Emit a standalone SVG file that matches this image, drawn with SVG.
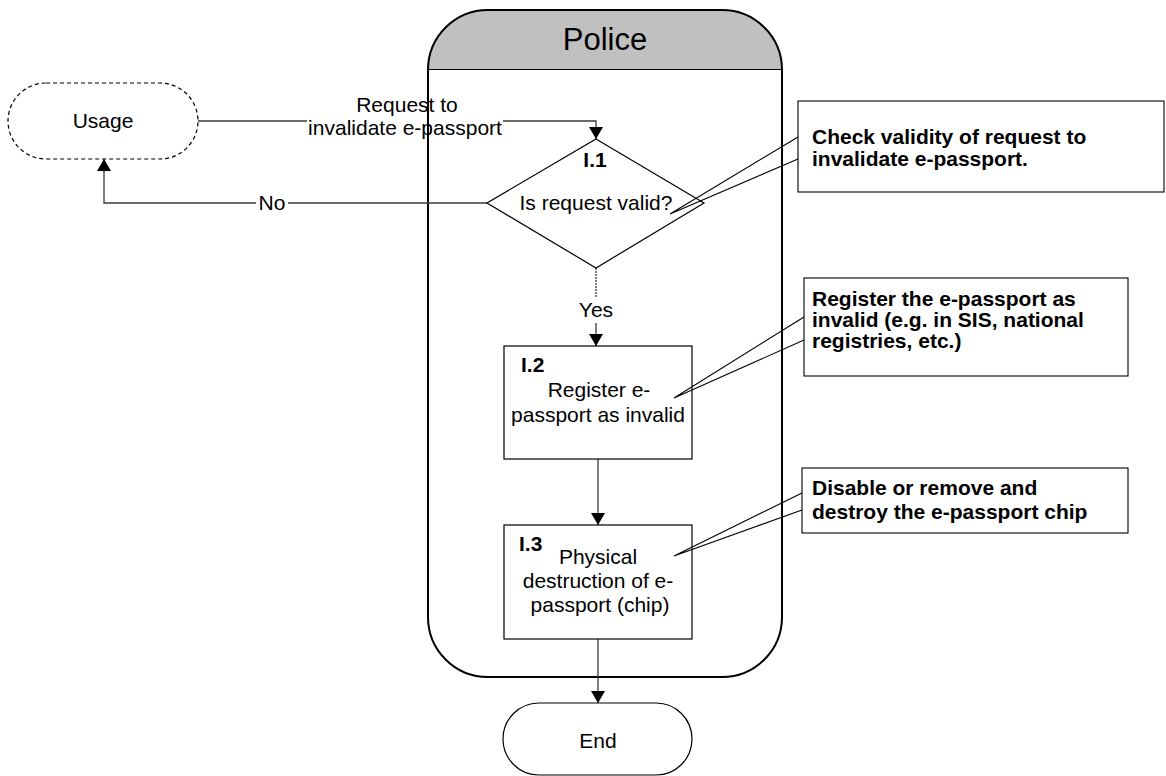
<svg xmlns="http://www.w3.org/2000/svg" width="1166" height="776" viewBox="0 0 1166 776">
  <style>
    .t { font-family: "Liberation Sans", Arial, sans-serif; font-size: 21px; fill: #000; }
    .b { font-weight: bold; }
    .m { text-anchor: middle; }
    .shape { fill: #fff; stroke: #000; stroke-width: 1.2; }
    .conn { fill: none; stroke: #3a3a3a; stroke-width: 1.3; }
    .call { fill: #fff; stroke: #000; stroke-width: 1.1; }
    .wedge { fill: none; stroke: #000; stroke-width: 1.1; }
  </style>
  <defs>
    <marker id="arrow" viewBox="0 0 12 14" refX="12" refY="7" markerWidth="12" markerHeight="14" markerUnits="userSpaceOnUse" orient="auto">
      <path d="M0,0 L12,7 L0,14 Z" fill="#000"/>
    </marker>
  </defs>

  <!-- swimlane -->
  <g id="lane-police">
    <path d="M428,70 A60,60 0 0 1 488,10 H722 A60,60 0 0 1 782,70 Z" fill="#c0c0c0" stroke="#000" stroke-width="2"/>
    <path d="M428,70 V617 A60,60 0 0 0 488,677 H722 A60,60 0 0 0 782,617 V70" fill="#fff" stroke="#000" stroke-width="2"/>
    <text class="t m" x="605" y="50" style="font-size:31px">Police</text>
  </g>

  <!-- connectors -->
  <g id="connectors">
    <path class="conn" d="M198,121 H307"/>
    <path class="conn" d="M503,121 H596 V139" marker-end="url(#arrow)"/>
    <text class="t m" x="407" y="112">Request to</text>
    <text class="t m" x="405" y="135">invalidate e-passport</text>

    <path class="conn" d="M487,203 H288"/>
    <path class="conn" d="M256,203 H104 V159" marker-end="url(#arrow)"/>
    <text class="t m" x="272" y="210">No</text>

    <path class="conn" d="M596,268 V297" stroke-dasharray="2 1"/>
    <text class="t m" x="596" y="317">Yes</text>
    <path class="conn" d="M596,323 V346" marker-end="url(#arrow)"/>

    <path class="conn" d="M598,459 V525" marker-end="url(#arrow)"/>
    <path class="conn" d="M598,639 V703" marker-end="url(#arrow)"/>
  </g>

  <g id="usage">
    <rect x="8" y="83" width="190" height="76" rx="38" ry="38" class="shape" stroke-dasharray="4 3"/>
    <text class="t m" x="103" y="128">Usage</text>
  </g>

  <g id="i1">
    <polygon points="596,139 704,203 596,268 487,203" class="shape"/>
    <text class="t b m" x="595" y="167">I.1</text>
    <text class="t m" x="596" y="210">Is request valid?</text>
  </g>

  <g id="i2">
    <rect x="504" y="346" width="188" height="113" class="shape"/>
    <text class="t b" x="521" y="372">I.2</text>
    <text class="t m" x="599" y="397">Register e-</text>
    <text class="t m" x="598" y="422">passport as invalid</text>
  </g>

  <g id="i3">
    <rect x="504" y="525" width="188" height="114" class="shape"/>
    <text class="t b" x="519" y="551">I.3</text>
    <text class="t m" x="598" y="564">Physical</text>
    <text class="t m" x="598" y="588">destruction of e-</text>
    <text class="t m" x="600" y="612">passport (chip)</text>
  </g>

  <g id="end">
    <rect x="503" y="703" width="189" height="72" rx="36" ry="36" class="shape"/>
    <text class="t m" x="598" y="748">End</text>
  </g>

  <!-- annotations -->
  <g id="note-i1">
    <rect x="798" y="101" width="366" height="91" class="call"/>
    <path class="wedge" d="M798,137 L670,214 L798,159"/>
    <text class="t b" x="812" y="144">Check validity of request to</text>
    <text class="t b" x="812" y="166">invalidate e-passport.</text>
  </g>

  <g id="note-i2">
    <rect x="804" y="278" width="324" height="98" class="call"/>
    <path class="wedge" d="M804,317 L674,398 L804,340"/>
    <text class="t b" x="812" y="306">Register the e-passport as</text>
    <text class="t b" x="812" y="327">invalid (e.g. in SIS, national</text>
    <text class="t b" x="812" y="348">registries, etc.)</text>
  </g>

  <g id="note-i3">
    <rect x="802" y="468" width="326" height="65" class="call"/>
    <path class="wedge" d="M802,493 L674,556 L802,510"/>
    <text class="t b" x="812" y="495">Disable or remove and</text>
    <text class="t b" x="812" y="519">destroy the e-passport chip</text>
  </g>
</svg>
